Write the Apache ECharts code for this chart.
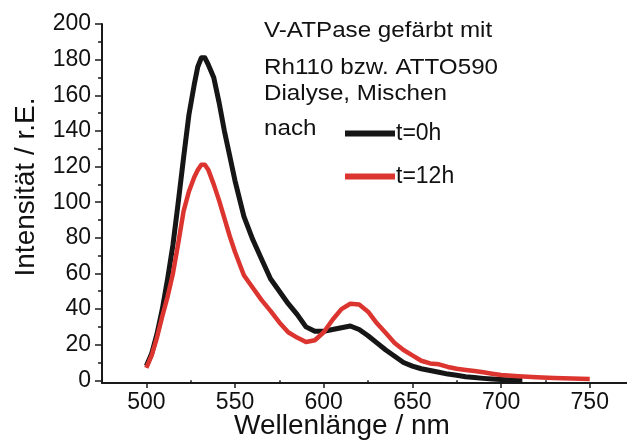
<!DOCTYPE html>
<html>
<head>
<meta charset="utf-8">
<script src="https://cdn.jsdelivr.net/npm/echarts@6/dist/echarts.min.js"></script>
<style>
html,body{margin:0;padding:0;background:#fff;}
#chart{width:627px;height:441px;}
</style>
</head>
<body>
<div id="chart"></div>
<script>
// ---- data ----
const blackX = [500,503,506,509,512,515,518,521,524,527,529,531,533,535,538,541,544,547,550,555,560,565,570,575,580,585,590,595,600,605,610,615,620,625,630,635,640,645,650,655,660,665,670,675,680,685,690,695,700,705,712];
const blackY = [8,15,26,40,57,76,100,125,149,166,176,181,181,177,170,156,140,126,112,92,79,68,57,50,43,37,30,27.5,27.5,28.5,29.5,30.5,28.5,25,21,17,13.5,10,8,6.5,5.5,4.5,3.5,2.8,2,1.6,1.1,0.7,0.4,0.2,0];
const redX = [500,503,506,509,512,515,518,521,524,527,529,531,533,535,538,541,544,547,550,555,560,565,570,575,580,585,590,595,600,605,610,615,620,625,630,635,640,645,650,655,660,665,670,675,680,685,690,695,700,710,720,730,740,750];
const redY = [7,14,24,36,47,60,77,95,106,114,118,121,121,118,110,101,91,81,72,59,52,45,39,32.5,27,24,21.5,22.5,27,34,40,43,42.5,38.5,32,26.5,21,17,14,11,9.5,9,7.5,6.5,5.8,5.2,4.5,3.7,3,2.3,1.7,1.3,1,0.8];
const xLabels = [500,550,600,650,700,750];
const xMinor = [525,575,625,675,725];
const yLabels = [0,20,40,60,80,100,120,140,160,180,200];
const yMinor = [10,30,50,70,90,110,130,150,170,190];
const seriesNames = ['t=0h','t=12h'];
const noteLines = ['V-ATPase gefärbt mit','Rh110 bzw. ATTO590','Dialyse, Mischen','nach'];
const xTitle = 'Wellenlänge / nm';
const yTitle = 'Intensität / r.E.';

const FONT = 'Liberation Sans, Arial, sans-serif';
const AX = '#1a1a1a';
const pairs = (xs, ys) => xs.map((x, i) => [x, ys[i]]);

const chart = echarts.init(document.getElementById('chart'), null, {renderer: 'canvas'});
const noteTop = [20, 57, 83, 118];
const noteText = (i) => ({
  type: 'text', x: 264, y: noteTop[i], scaleX: 1.1,
  style: {text: noteLines[i], fontSize: 22, fill: '#111', fontFamily: FONT, verticalAlign: 'top'}
});
const option = {
  animation: false,
  backgroundColor: '#fff',
  grid: {left: 102, right: 0, top: 24, bottom: 58, containLabel: false},
  xAxis: [{
    type: 'value', min: 475, max: 771,
    axisLine: {show: true, onZero: false, lineStyle: {color: AX, width: 2}},
    axisTick: {show: true, inside: false, length: 5, customValues: xLabels, lineStyle: {color: AX, width: 1.5}},
    axisLabel: {show: true, customValues: xLabels, margin: 8, fontSize: 23, color: '#111', fontFamily: FONT},
    splitLine: {show: false}
  }, {
    type: 'value', min: 475, max: 771, position: 'bottom',
    axisLine: {show: false},
    axisTick: {show: true, inside: false, length: 3, customValues: xMinor, lineStyle: {color: AX, width: 1.5}},
    axisLabel: {show: false},
    splitLine: {show: false}
  }],
  yAxis: [{
    type: 'value', min: -1.5, max: 200,
    axisLine: {show: true, onZero: false, lineStyle: {color: AX, width: 2}},
    axisTick: {show: true, inside: false, length: 7, customValues: yLabels, lineStyle: {color: AX, width: 1.5}},
    axisLabel: {show: true, customValues: yLabels, margin: 11, fontSize: 23, color: '#111', fontFamily: FONT},
    splitLine: {show: false}
  }, {
    type: 'value', min: -1.5, max: 200, position: 'left',
    axisLine: {show: false},
    axisTick: {show: true, inside: false, length: 4, customValues: yMinor, lineStyle: {color: AX, width: 1.5}},
    axisLabel: {show: false},
    splitLine: {show: false}
  }],
  legend: {
    show: true, orient: 'vertical', left: 340, top: 117, itemGap: 20,
    itemWidth: 50, itemHeight: 6, icon: 'rect',
    textStyle: {fontSize: 23, color: '#111', fontFamily: FONT, padding: [0, 0, 0, -4]},
    data: seriesNames
  },
  series: [{
    name: seriesNames[0], type: 'line', data: pairs(blackX, blackY),
    showSymbol: false, symbol: 'none', smooth: false,
    lineStyle: {color: '#161616', width: 5, join: 'round'}, itemStyle: {color: '#161616'}, z: 2
  }, {
    name: seriesNames[1], type: 'line', data: pairs(redX, redY),
    showSymbol: false, symbol: 'none', smooth: false,
    lineStyle: {color: '#dc3530', width: 4.5, join: 'round'}, itemStyle: {color: '#dc3530'}, z: 3
  }],
  graphic: [
    noteText(0), noteText(1), noteText(2), noteText(3),
    {type: 'text', x: 342, y: 426, style: {text: xTitle, fontSize: 28, fill: '#111', fontFamily: FONT, align: 'center', verticalAlign: 'middle'}},
    {type: 'text', x: 26, y: 187, rotation: Math.PI / 2, style: {text: yTitle, fontSize: 28, fill: '#111', fontFamily: FONT, align: 'center', verticalAlign: 'middle'}}
  ]
};
chart.setOption(option);
</script>
</body>
</html>
